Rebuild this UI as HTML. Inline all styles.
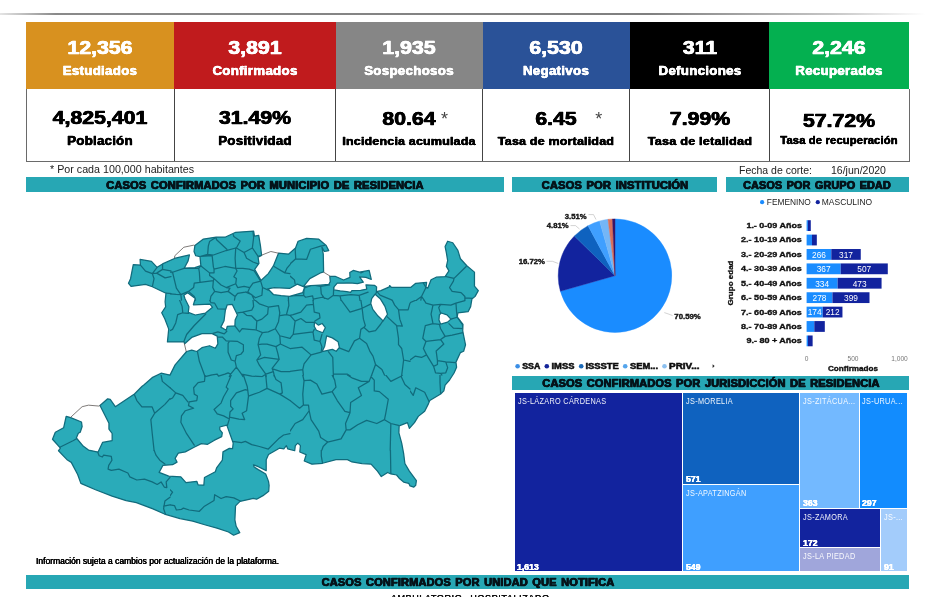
<!DOCTYPE html>
<html lang="es">
<head>
<meta charset="utf-8">
<title>COVID-19 Michoacán — Panorama</title>
<style>
html,body{margin:0;padding:0;background:#fff;}
body{width:940px;height:597px;position:relative;overflow:hidden;font-family:"Liberation Sans",Arial,Helvetica,sans-serif;}
.t{position:absolute;white-space:nowrap;line-height:1;margin:0;padding:0;}
.b{position:absolute;box-sizing:border-box;}
svg{position:absolute;left:0;top:0;overflow:visible;}
svg text{font-family:"Liberation Sans",Arial,Helvetica,sans-serif;}
</style>
</head>
<body>

<div class="b" style="left:0;top:13px;width:925px;height:2px;background:linear-gradient(90deg,rgba(150,150,150,.25) 0,rgba(125,125,125,.9) 6%,rgba(120,120,120,.95) 70%,rgba(150,150,150,.55) 90%,rgba(200,200,200,0) 100%);"></div>
<div class="b" style="left:26.20px;top:22.30px;width:147.80px;height:66.40px;background:#D8911F;"></div>
<div class="t" style="top:38.42px;left:100.10px;transform:translateX(-50%) scaleX(1.12);font-size:19px;font-weight:700;color:#fff;-webkit-text-stroke:0.41px #fff;text-shadow:0.36px 0 0 #fff,-0.36px 0 0 #fff;">12,356</div>
<div class="t" style="top:65.14px;left:100.10px;transform:translateX(-50%) scaleX(1.11);font-size:12px;font-weight:700;color:#fff;letter-spacing:0.25px;-webkit-text-stroke:0.27px #fff;text-shadow:0.24px 0 0 #fff,-0.24px 0 0 #fff;">Estudiados</div>
<div class="b" style="left:174.00px;top:22.30px;width:161.60px;height:66.40px;background:#C01B1D;"></div>
<div class="t" style="top:38.42px;left:254.80px;transform:translateX(-50%) scaleX(1.12);font-size:19px;font-weight:700;color:#fff;-webkit-text-stroke:0.41px #fff;text-shadow:0.36px 0 0 #fff,-0.36px 0 0 #fff;">3,891</div>
<div class="t" style="top:65.14px;left:254.80px;transform:translateX(-50%) scaleX(1.11);font-size:12px;font-weight:700;color:#fff;letter-spacing:0.25px;-webkit-text-stroke:0.27px #fff;text-shadow:0.24px 0 0 #fff,-0.24px 0 0 #fff;">Confirmados</div>
<div class="b" style="left:335.60px;top:22.30px;width:147.00px;height:66.40px;background:#868686;"></div>
<div class="t" style="top:38.42px;left:409.10px;transform:translateX(-50%) scaleX(1.12);font-size:19px;font-weight:700;color:#fff;-webkit-text-stroke:0.41px #fff;text-shadow:0.36px 0 0 #fff,-0.36px 0 0 #fff;">1,935</div>
<div class="t" style="top:65.14px;left:409.10px;transform:translateX(-50%) scaleX(1.11);font-size:12px;font-weight:700;color:#fff;letter-spacing:0.25px;-webkit-text-stroke:0.27px #fff;text-shadow:0.24px 0 0 #fff,-0.24px 0 0 #fff;">Sospechosos</div>
<div class="b" style="left:482.60px;top:22.30px;width:147.30px;height:66.40px;background:#2A5298;"></div>
<div class="t" style="top:38.42px;left:556.25px;transform:translateX(-50%) scaleX(1.12);font-size:19px;font-weight:700;color:#fff;-webkit-text-stroke:0.41px #fff;text-shadow:0.36px 0 0 #fff,-0.36px 0 0 #fff;">6,530</div>
<div class="t" style="top:65.14px;left:556.25px;transform:translateX(-50%) scaleX(1.11);font-size:12px;font-weight:700;color:#fff;letter-spacing:0.25px;-webkit-text-stroke:0.27px #fff;text-shadow:0.24px 0 0 #fff,-0.24px 0 0 #fff;">Negativos</div>
<div class="b" style="left:629.90px;top:22.30px;width:139.30px;height:66.40px;background:#000000;"></div>
<div class="t" style="top:38.42px;left:699.55px;transform:translateX(-50%) scaleX(1.12);font-size:19px;font-weight:700;color:#fff;-webkit-text-stroke:0.41px #fff;text-shadow:0.36px 0 0 #fff,-0.36px 0 0 #fff;">311</div>
<div class="t" style="top:65.14px;left:699.55px;transform:translateX(-50%) scaleX(1.11);font-size:12px;font-weight:700;color:#fff;letter-spacing:0.25px;-webkit-text-stroke:0.27px #fff;text-shadow:0.24px 0 0 #fff,-0.24px 0 0 #fff;">Defunciones</div>
<div class="b" style="left:769.20px;top:22.30px;width:140.10px;height:66.40px;background:#04B050;"></div>
<div class="t" style="top:38.42px;left:839.25px;transform:translateX(-50%) scaleX(1.12);font-size:19px;font-weight:700;color:#fff;-webkit-text-stroke:0.41px #fff;text-shadow:0.36px 0 0 #fff,-0.36px 0 0 #fff;">2,246</div>
<div class="t" style="top:65.14px;left:839.25px;transform:translateX(-50%) scaleX(1.11);font-size:12px;font-weight:700;color:#fff;letter-spacing:0.25px;-webkit-text-stroke:0.27px #fff;text-shadow:0.24px 0 0 #fff,-0.24px 0 0 #fff;">Recuperados</div>
<div class="b" style="left:26.20px;top:88.70px;width:883.60px;height:73.00px;background:#fff;border:1px solid #6a6a6a;border-top:none;"></div>
<div class="b" style="left:173.50px;top:88.70px;width:1.00px;height:72.60px;background:#444;"></div>
<div class="b" style="left:335.10px;top:88.70px;width:1.00px;height:72.60px;background:#444;"></div>
<div class="b" style="left:482.10px;top:88.70px;width:1.00px;height:72.60px;background:#444;"></div>
<div class="b" style="left:629.40px;top:88.70px;width:1.00px;height:72.60px;background:#444;"></div>
<div class="b" style="left:768.70px;top:88.70px;width:1.00px;height:72.60px;background:#444;"></div>
<div class="t" style="top:108.22px;left:100.10px;transform:translateX(-50%) scaleX(1.12);font-size:19px;font-weight:700;color:#000;-webkit-text-stroke:0.41px #000;text-shadow:0.36px 0 0 #000,-0.36px 0 0 #000;">4,825,401</div>
<div class="t" style="top:135.34px;left:100.10px;transform:translateX(-50%) scaleX(1.1199999999999999);font-size:12px;font-weight:700;color:#000;letter-spacing:0.15px;-webkit-text-stroke:0.27px #000;text-shadow:0.24px 0 0 #000,-0.24px 0 0 #000;">Población</div>
<div class="t" style="top:108.22px;left:254.80px;transform:translateX(-50%) scaleX(1.12);font-size:19px;font-weight:700;color:#000;-webkit-text-stroke:0.41px #000;text-shadow:0.36px 0 0 #000,-0.36px 0 0 #000;">31.49%</div>
<div class="t" style="top:135.34px;left:254.80px;transform:translateX(-50%) scaleX(1.1199999999999999);font-size:12px;font-weight:700;color:#000;letter-spacing:0.15px;-webkit-text-stroke:0.27px #000;text-shadow:0.24px 0 0 #000,-0.24px 0 0 #000;">Positividad</div>
<div class="t" style="top:108.62px;left:409.10px;transform:translateX(-50%) scaleX(1.12);font-size:19px;font-weight:700;color:#000;-webkit-text-stroke:0.41px #000;text-shadow:0.36px 0 0 #000,-0.36px 0 0 #000;">80.64</div>
<div class="t" style="top:136.19px;left:409.10px;transform:translateX(-50%) scaleX(1.136);font-size:11px;font-weight:700;color:#000;letter-spacing:0.15px;-webkit-text-stroke:0.27px #000;text-shadow:0.24px 0 0 #000,-0.24px 0 0 #000;">Incidencia acumulada</div>
<div class="t" style="top:108.72px;left:556.25px;transform:translateX(-50%) scaleX(1.12);font-size:19px;font-weight:700;color:#000;-webkit-text-stroke:0.41px #000;text-shadow:0.36px 0 0 #000,-0.36px 0 0 #000;">6.45</div>
<div class="t" style="top:135.77px;left:556.25px;transform:translateX(-50%) scaleX(1.09);font-size:11.5px;font-weight:700;color:#000;letter-spacing:0.15px;-webkit-text-stroke:0.27px #000;text-shadow:0.24px 0 0 #000,-0.24px 0 0 #000;">Tasa de mortalidad</div>
<div class="t" style="top:109.42px;left:699.55px;transform:translateX(-50%) scaleX(1.12);font-size:19px;font-weight:700;color:#000;-webkit-text-stroke:0.41px #000;text-shadow:0.36px 0 0 #000,-0.36px 0 0 #000;">7.99%</div>
<div class="t" style="top:135.77px;left:699.55px;transform:translateX(-50%) scaleX(1.105);font-size:11.5px;font-weight:700;color:#000;letter-spacing:0.15px;-webkit-text-stroke:0.27px #000;text-shadow:0.24px 0 0 #000,-0.24px 0 0 #000;">Tasa de letalidad</div>
<div class="t" style="top:110.72px;left:839.25px;transform:translateX(-50%) scaleX(1.12);font-size:19px;font-weight:700;color:#000;-webkit-text-stroke:0.41px #000;text-shadow:0.36px 0 0 #000,-0.36px 0 0 #000;">57.72%</div>
<div class="t" style="top:136.34px;left:839.25px;transform:translateX(-50%) scaleX(1.1179999999999999);font-size:10px;font-weight:700;color:#000;letter-spacing:0.15px;-webkit-text-stroke:0.27px #000;text-shadow:0.24px 0 0 #000,-0.24px 0 0 #000;">Tasa de recuperación</div>
<div class="t" style="top:110.06px;left:444.40px;transform:translateX(-50%) scaleX(1.0);font-size:18px;font-weight:400;color:#444;">*</div>
<div class="t" style="top:110.06px;left:598.70px;transform:translateX(-50%) scaleX(1.0);font-size:18px;font-weight:400;color:#444;">*</div>
<div class="t" style="top:164.43px;left:49.80px;transform-origin:0 50%;transform:scaleX(0.948);font-size:11.3px;font-weight:400;color:#222;">* Por cada 100,000 habitantes</div>
<div class="t" style="top:164.83px;left:738.80px;transform-origin:0 50%;transform:scaleX(0.93);font-size:11.3px;font-weight:400;color:#222;">Fecha de corte:</div>
<div class="t" style="top:164.83px;left:830.70px;transform-origin:0 50%;transform:scaleX(0.93);font-size:11.3px;font-weight:400;color:#222;">16/jun/2020</div>
<div class="b" style="left:26.20px;top:177.10px;width:478.30px;height:14.70px;background:#27A7B4;"></div>
<div class="t" style="top:179.71px;left:265.35px;transform:translateX(-50%) scaleX(1.053);font-size:10.5px;font-weight:700;color:#06141B;letter-spacing:0.15px;-webkit-text-stroke:0.45px #06141B;text-shadow:0.40px 0 0 #06141B,-0.40px 0 0 #06141B;word-spacing:1.2px;">CASOS CONFIRMADOS POR MUNICIPIO DE RESIDENCIA</div>
<div class="b" style="left:512.20px;top:177.10px;width:205.20px;height:14.70px;background:#27A7B4;"></div>
<div class="t" style="top:179.71px;left:614.80px;transform:translateX(-50%) scaleX(1.058);font-size:10.5px;font-weight:700;color:#06141B;letter-spacing:0.15px;-webkit-text-stroke:0.45px #06141B;text-shadow:0.40px 0 0 #06141B,-0.40px 0 0 #06141B;word-spacing:1.2px;">CASOS POR INSTITUCIÓN</div>
<div class="b" style="left:725.50px;top:177.10px;width:183.90px;height:14.70px;background:#27A7B4;"></div>
<div class="t" style="top:179.71px;left:817.45px;transform:translateX(-50%) scaleX(1.028);font-size:10.5px;font-weight:700;color:#06141B;letter-spacing:0.15px;-webkit-text-stroke:0.45px #06141B;text-shadow:0.40px 0 0 #06141B,-0.40px 0 0 #06141B;word-spacing:1.2px;">CASOS POR GRUPO EDAD</div>
<div class="b" style="left:511.70px;top:375.70px;width:397.80px;height:14.30px;background:#27A7B4;"></div>
<div class="t" style="top:377.91px;left:710.60px;transform:translateX(-50%) scaleX(1.048);font-size:10.5px;font-weight:700;color:#06141B;letter-spacing:0.15px;-webkit-text-stroke:0.45px #06141B;text-shadow:0.40px 0 0 #06141B,-0.40px 0 0 #06141B;word-spacing:1.2px;">CASOS CONFIRMADOS POR JURISDICCIÓN DE RESIDENCIA</div>
<div class="b" style="left:26.20px;top:574.60px;width:883.30px;height:14.10px;background:#27A7B4;"></div>
<div class="t" style="top:576.61px;left:467.85px;transform:translateX(-50%) scaleX(1.048);font-size:10.5px;font-weight:700;color:#06141B;letter-spacing:0.15px;-webkit-text-stroke:0.45px #06141B;text-shadow:0.40px 0 0 #06141B,-0.40px 0 0 #06141B;word-spacing:1.2px;">CASOS CONFIRMADOS POR UNIDAD QUE NOTIFICA</div>
<svg width="940" height="597" viewBox="0 0 940 597" aria-label="Mapa de Michoacán: casos confirmados por municipio">
<defs>
<clipPath id="mclip"><path d="M128.51 283.32 L130.55 278.72 L133.28 264.6 L140.43 265.11 L140.09 259.49 L151.49 261.36 L157.11 267.32 L162.55 263.91 L174.47 258.47 L189.45 254.89 L188.09 260.85 L184.34 268 L194.89 267.66 L200.85 265.62 L200 256.6 L195.74 255.74 L194.04 251.49 L194.89 245.53 L203.4 239.06 L216.17 237.02 L225.53 237.02 L235.74 232.26 L253.62 231.06 L254.47 236.17 L258.72 235.32 L260.43 245.53 L261.62 255.4 L258.09 257.11 L258.94 263.4 L254.68 269.36 L260.98 280.43 L268.3 273.62 L273.4 265.96 L278.51 253.19 L288.72 254.04 L295.53 248.09 L298.09 241.28 L306.6 238.38 L318.51 239.06 L326.17 245.53 L328.72 250.64 L324.47 251.49 L321.91 247.23 L323.28 254.04 L323.62 271.91 L321.28 272.55 L309.79 278.62 L303.4 286.7 L310.64 285.64 L320.21 285.11 L328.72 284.47 L330.32 281.6 L329.79 276.28 L335.11 276.28 L343.62 280 L350 277.34 L349.79 272.55 L353.19 270.43 L359.57 272.02 L369.15 270.43 L371.28 279.47 L365.96 277.34 L359.57 276.81 L363.3 282.13 L357.45 283.72 L350 282.87 L343.62 283.19 L337.23 283.19 L334.04 286.91 L333.83 289.89 L340 290.85 L346.81 291.7 L350.53 292.45 L351.91 290.53 L360.64 290.32 L366.81 289.04 L365.96 284.79 L374.47 285.32 L376.6 286.91 L376.38 291.7 L380.85 290.64 L389.36 286.91 L389.57 285.53 L391.49 287.45 L410.64 287.45 L415.74 283.36 L426.6 282.34 L425.96 287.45 L427.87 288.09 L431.06 279.79 L436.17 277.23 L445.11 276.6 L448.94 270.85 L446.38 266.38 L447.66 260.64 L446.38 252.98 L445.11 246.6 L447.66 241.23 L452.77 242.77 L457.87 250.43 L460.43 258.72 L466.81 265.74 L474.47 272.13 L474.47 286.17 L478.3 290.64 L475.11 296.38 L471.92 298.94 L470.64 306.6 L468.09 311.7 L457.87 312.98 L457.23 316.81 L462.98 324.47 L462.72 330.85 L464.26 338.51 L465.53 344.89 L463.62 351.28 L460.43 352.55 L455.96 362.13 L456.6 367.23 L454.04 372.98 L449.57 380 L445.11 385.11 L443.83 390.85 L440.64 394.04 L429.79 400.43 L428.51 403.62 L424.68 411.28 L418.3 416.38 L414.47 422.66 L409.36 428.4 L407.45 422.66 L399.15 425.85 L398.89 432.87 L401.7 443.09 L403.62 453.3 L404.89 463.51 L409.36 471.17 L416.38 480.74 L415.75 485.21 L413.83 487.13 L410 485.85 L408.72 483.3 L403.62 482.02 L399.15 478.19 L396.6 475 L390.85 473.98 L387.66 472.45 L381.28 476.53 L377.45 471.17 L371.06 464.15 L362.13 463.51 L351.92 461.98 L347.45 459.68 L335.96 459.68 L322.55 463.26 L311.92 464.15 L304.26 460.96 L306.17 454.57 L299.79 452.02 L300.43 445.64 L297.87 443.09 L295.32 445.64 L294.68 450.74 L287.66 448.83 L286.38 445.64 L283.83 448.83 L279.36 448.19 L268.51 454.57 L266.21 459.68 L266.21 470.66 L258.3 466.7 L253.45 464.79 L254.21 467.09 L258.3 469.64 L265.7 473.98 L268.51 481.38 L269.11 485.43 L268.72 491.17 L262.98 495.64 L256.6 499.21 L253.4 498.45 L240 501.38 L235.53 505.85 L234.89 519.89 L236.17 526.28 L239.74 532.66 L233.62 535.21 L228.51 532.02 L217.02 528.19 L205.53 525 L192.77 521.17 L180 518.62 L164.47 514.04 L152.98 508.94 L136.38 502.55 L126.17 500.64 L112.13 496.17 L95.53 489.79 L80.85 483.4 L77.66 474.47 L71.28 462.34 L67.45 460.06 L58.51 450.74 L60.43 448.19 L52.51 439.26 L55.32 432.23 L63.62 427.77 L66.17 416.28 L70.64 417.55 L81.49 422.02 L82.13 426.49 L80.21 432.23 L78.3 433.26 L76.38 437.98 L83.4 446.28 L88.51 450.11 L98.09 452.02 L102.55 442.45 L112.13 440.53 L112.13 433.51 L108.94 429.04 L108.94 423.3 L100 405.43 L107.66 398.79 L110.21 399.3 L115.32 406.7 L134.47 393.94 L142.13 386.28 L143.83 385.06 L152.13 377.66 L161.06 373.19 L170 375.11 L175.11 364.89 L186.6 351.49 L191.7 350.21 L196.81 351.49 L201.92 347.66 L209.57 345.74 L215.32 348.3 L217.87 343.83 L217.23 336.17 L212.13 333.62 L201.92 333.62 L191.7 337.45 L184.68 343.83 L184.04 341.92 L167.45 341.92 L168.72 329.15 L164.89 318.94 L161.7 312.77 L165.62 306.81 L165.11 301.7 L165.96 293.19 L152.34 286.72 L145.53 284.34 L131.06 286.38 Z M183.83 295.21 L187.66 292.66 L195.32 298.4 L193.4 304.79 L210 304.15 L212.55 307.34 L205.53 313.09 L195.32 315 L188.3 312.45 L188.94 306.7 L185.11 299.04 Z M227.23 304.79 L232.34 304.4 L237.45 315 L235.15 320.11 L234.89 325.85 L227.23 326.49 L226.21 330.32 L220.85 327.13 L224.04 320.74 L225.32 310.53 Z M267.79 288.77 L274.26 287.57 L289.57 288.43 L297.23 284.17 L304.72 287.06 L302.68 292.68 L289.57 296.43 L281.06 295.57 L273.4 294.55 Z M314.47 321.92 L318.3 325.11 L322.13 323.45 L325.32 327.66 L322.77 332.77 L316.38 330.21 L314.21 326.38 Z M326.6 335.96 L332.34 337.87 L338.09 341.7 L339.36 347.45 L336.17 351.28 L332.34 349.36 L322.13 351.53 L324.68 346.17 Z M375.11 294.21 L380.21 298.68 L384.94 306.34 L387.49 314.26 L383.15 320.89 L378.04 316.04 L372.81 309.4 L370.77 303.4 L371.66 298.68 Z M439.36 314.89 L441.28 312.98 L447.02 314.89 L450.85 319.11 L447.66 322.17 L440.64 324.21 L438.98 320 Z M219.79 427.02 L226.81 425.11 L233.19 442.98 L232.55 448.72 L229.36 448.34 L222.98 451.92 L222.34 460.21 L216.6 467.87 L215.32 471.7 L204.47 477.45 L203.83 485.11 L198.09 484.85 L196.81 481.28 L185.96 482.55 L180.85 476.81 L168.72 476.17 L159.15 472.34 L162.98 465.32 L172.55 464.68 L177.02 462.13 L175.11 458.3 L178.3 453.19 L185.32 451.92 L193.62 447.45 L201.28 443.62 L207.66 444.26 L214.04 440.43 L221.7 436.6 L222.34 432.77 L219.79 429.57 Z" clip-rule="evenodd"/></clipPath>
<clipPath id="c0" clip-path="url(#mclip)"><rect x="50" y="225" width="121.5" height="77.5"/></clipPath>
<clipPath id="c1" clip-path="url(#mclip)"><rect x="170" y="225" width="121.5" height="77.5"/></clipPath>
<clipPath id="c2" clip-path="url(#mclip)"><rect x="290" y="225" width="121.5" height="77.5"/></clipPath>
<clipPath id="c3" clip-path="url(#mclip)"><rect x="410" y="225" width="121.5" height="77.5"/></clipPath>
<clipPath id="c4" clip-path="url(#mclip)"><rect x="170" y="300" width="121.5" height="77.5"/></clipPath>
<clipPath id="c5" clip-path="url(#mclip)"><rect x="290" y="300" width="121.5" height="77.5"/></clipPath>
<clipPath id="c6" clip-path="url(#mclip)"><rect x="410" y="300" width="121.5" height="77.5"/></clipPath>
<clipPath id="c7" clip-path="url(#mclip)"><rect x="50" y="375" width="121.5" height="77.5"/></clipPath>
<clipPath id="c8" clip-path="url(#mclip)"><rect x="170" y="375" width="121.5" height="77.5"/></clipPath>
<clipPath id="c9" clip-path="url(#mclip)"><rect x="290" y="375" width="121.5" height="77.5"/></clipPath>
<clipPath id="c10" clip-path="url(#mclip)"><rect x="410" y="375" width="121.5" height="77.5"/></clipPath>
<clipPath id="c11" clip-path="url(#mclip)"><rect x="50" y="450" width="121.5" height="82.5"/></clipPath>
<clipPath id="c12" clip-path="url(#mclip)"><rect x="170" y="450" width="121.5" height="82.5"/></clipPath>
<clipPath id="c13" clip-path="url(#mclip)"><rect x="290" y="450" width="121.5" height="82.5"/></clipPath>
</defs>
<path d="M128.51 283.32 L130.55 278.72 L133.28 264.6 L140.43 265.11 L140.09 259.49 L151.49 261.36 L157.11 267.32 L162.55 263.91 L174.47 258.47 L189.45 254.89 L188.09 260.85 L184.34 268 L194.89 267.66 L200.85 265.62 L200 256.6 L195.74 255.74 L194.04 251.49 L194.89 245.53 L203.4 239.06 L216.17 237.02 L225.53 237.02 L235.74 232.26 L253.62 231.06 L254.47 236.17 L258.72 235.32 L260.43 245.53 L261.62 255.4 L258.09 257.11 L258.94 263.4 L254.68 269.36 L260.98 280.43 L268.3 273.62 L273.4 265.96 L278.51 253.19 L288.72 254.04 L295.53 248.09 L298.09 241.28 L306.6 238.38 L318.51 239.06 L326.17 245.53 L328.72 250.64 L324.47 251.49 L321.91 247.23 L323.28 254.04 L323.62 271.91 L321.28 272.55 L309.79 278.62 L303.4 286.7 L310.64 285.64 L320.21 285.11 L328.72 284.47 L330.32 281.6 L329.79 276.28 L335.11 276.28 L343.62 280 L350 277.34 L349.79 272.55 L353.19 270.43 L359.57 272.02 L369.15 270.43 L371.28 279.47 L365.96 277.34 L359.57 276.81 L363.3 282.13 L357.45 283.72 L350 282.87 L343.62 283.19 L337.23 283.19 L334.04 286.91 L333.83 289.89 L340 290.85 L346.81 291.7 L350.53 292.45 L351.91 290.53 L360.64 290.32 L366.81 289.04 L365.96 284.79 L374.47 285.32 L376.6 286.91 L376.38 291.7 L380.85 290.64 L389.36 286.91 L389.57 285.53 L391.49 287.45 L410.64 287.45 L415.74 283.36 L426.6 282.34 L425.96 287.45 L427.87 288.09 L431.06 279.79 L436.17 277.23 L445.11 276.6 L448.94 270.85 L446.38 266.38 L447.66 260.64 L446.38 252.98 L445.11 246.6 L447.66 241.23 L452.77 242.77 L457.87 250.43 L460.43 258.72 L466.81 265.74 L474.47 272.13 L474.47 286.17 L478.3 290.64 L475.11 296.38 L471.92 298.94 L470.64 306.6 L468.09 311.7 L457.87 312.98 L457.23 316.81 L462.98 324.47 L462.72 330.85 L464.26 338.51 L465.53 344.89 L463.62 351.28 L460.43 352.55 L455.96 362.13 L456.6 367.23 L454.04 372.98 L449.57 380 L445.11 385.11 L443.83 390.85 L440.64 394.04 L429.79 400.43 L428.51 403.62 L424.68 411.28 L418.3 416.38 L414.47 422.66 L409.36 428.4 L407.45 422.66 L399.15 425.85 L398.89 432.87 L401.7 443.09 L403.62 453.3 L404.89 463.51 L409.36 471.17 L416.38 480.74 L415.75 485.21 L413.83 487.13 L410 485.85 L408.72 483.3 L403.62 482.02 L399.15 478.19 L396.6 475 L390.85 473.98 L387.66 472.45 L381.28 476.53 L377.45 471.17 L371.06 464.15 L362.13 463.51 L351.92 461.98 L347.45 459.68 L335.96 459.68 L322.55 463.26 L311.92 464.15 L304.26 460.96 L306.17 454.57 L299.79 452.02 L300.43 445.64 L297.87 443.09 L295.32 445.64 L294.68 450.74 L287.66 448.83 L286.38 445.64 L283.83 448.83 L279.36 448.19 L268.51 454.57 L266.21 459.68 L266.21 470.66 L258.3 466.7 L253.45 464.79 L254.21 467.09 L258.3 469.64 L265.7 473.98 L268.51 481.38 L269.11 485.43 L268.72 491.17 L262.98 495.64 L256.6 499.21 L253.4 498.45 L240 501.38 L235.53 505.85 L234.89 519.89 L236.17 526.28 L239.74 532.66 L233.62 535.21 L228.51 532.02 L217.02 528.19 L205.53 525 L192.77 521.17 L180 518.62 L164.47 514.04 L152.98 508.94 L136.38 502.55 L126.17 500.64 L112.13 496.17 L95.53 489.79 L80.85 483.4 L77.66 474.47 L71.28 462.34 L67.45 460.06 L58.51 450.74 L60.43 448.19 L52.51 439.26 L55.32 432.23 L63.62 427.77 L66.17 416.28 L70.64 417.55 L81.49 422.02 L82.13 426.49 L80.21 432.23 L78.3 433.26 L76.38 437.98 L83.4 446.28 L88.51 450.11 L98.09 452.02 L102.55 442.45 L112.13 440.53 L112.13 433.51 L108.94 429.04 L108.94 423.3 L100 405.43 L107.66 398.79 L110.21 399.3 L115.32 406.7 L134.47 393.94 L142.13 386.28 L143.83 385.06 L152.13 377.66 L161.06 373.19 L170 375.11 L175.11 364.89 L186.6 351.49 L191.7 350.21 L196.81 351.49 L201.92 347.66 L209.57 345.74 L215.32 348.3 L217.87 343.83 L217.23 336.17 L212.13 333.62 L201.92 333.62 L191.7 337.45 L184.68 343.83 L184.04 341.92 L167.45 341.92 L168.72 329.15 L164.89 318.94 L161.7 312.77 L165.62 306.81 L165.11 301.7 L165.96 293.19 L152.34 286.72 L145.53 284.34 L131.06 286.38 Z M183.83 295.21 L187.66 292.66 L195.32 298.4 L193.4 304.79 L210 304.15 L212.55 307.34 L205.53 313.09 L195.32 315 L188.3 312.45 L188.94 306.7 L185.11 299.04 Z M227.23 304.79 L232.34 304.4 L237.45 315 L235.15 320.11 L234.89 325.85 L227.23 326.49 L226.21 330.32 L220.85 327.13 L224.04 320.74 L225.32 310.53 Z M267.79 288.77 L274.26 287.57 L289.57 288.43 L297.23 284.17 L304.72 287.06 L302.68 292.68 L289.57 296.43 L281.06 295.57 L273.4 294.55 Z M314.47 321.92 L318.3 325.11 L322.13 323.45 L325.32 327.66 L322.77 332.77 L316.38 330.21 L314.21 326.38 Z M326.6 335.96 L332.34 337.87 L338.09 341.7 L339.36 347.45 L336.17 351.28 L332.34 349.36 L322.13 351.53 L324.68 346.17 Z M375.11 294.21 L380.21 298.68 L384.94 306.34 L387.49 314.26 L383.15 320.89 L378.04 316.04 L372.81 309.4 L370.77 303.4 L371.66 298.68 Z M439.36 314.89 L441.28 312.98 L447.02 314.89 L450.85 319.11 L447.66 322.17 L440.64 324.21 L438.98 320 Z M219.79 427.02 L226.81 425.11 L233.19 442.98 L232.55 448.72 L229.36 448.34 L222.98 451.92 L222.34 460.21 L216.6 467.87 L215.32 471.7 L204.47 477.45 L203.83 485.11 L198.09 484.85 L196.81 481.28 L185.96 482.55 L180.85 476.81 L168.72 476.17 L159.15 472.34 L162.98 465.32 L172.55 464.68 L177.02 462.13 L175.11 458.3 L178.3 453.19 L185.32 451.92 L193.62 447.45 L201.28 443.62 L207.66 444.26 L214.04 440.43 L221.7 436.6 L222.34 432.77 L219.79 429.57 Z" fill="#2AABB9" fill-rule="evenodd"/>
<path clip-path="url(#c0)" d="M140.43 265.11 L145.53 271.06 L152.34 273.62 L157.11 267.32 M152.34 273.62 L154.04 278.72 L152.34 286.72 M152.34 273.62 L156.6 273.11 L162.55 269.36 L162.55 263.91 M156.6 273.11 L165.11 277.87 L172.77 276.17 L171.91 271.06 L162.55 269.36 M171.91 271.06 L183.83 268.51 M172.77 276.17 L174.47 281.28 L177.87 291.49 L176.17 294.04 L165.96 293.19" fill="none" stroke="#116B7C" stroke-width="1.25" stroke-linejoin="round" stroke-linecap="round"/>
<path clip-path="url(#c1)" d="M215.32 237.77 L209.57 241.6 L208.3 246.06 L207.66 254.36 M200.64 256.28 L207.66 254.36 L213.4 255 L226.17 250.53 L235.74 247.98 M215.96 237.77 L216.6 239.68 L226.81 249.26 M233.19 234.57 L233.83 236.49 L240.21 240.96 L236.38 247.98 M236.38 247.98 L244.04 252.45 L252.34 247.98 L253.62 237.77 L252.98 231.38 M252.34 247.98 L258.09 256.28 L261.28 255.64 M244.04 252.45 L246.6 258.19 L252.98 262.02 L258.09 263.94 M235.74 247.98 L235.11 258.19 L235.74 268.4 M235.74 268.4 L242.77 268.4 L249.15 269.04 L254.26 270.96 M200.64 256.28 L212.13 255.64 L213.4 267.13 L214.04 269.04 L224.89 266.49 L235.74 268.4 M200.64 265.85 L209.57 272.87 L214.04 272.87 L214.04 269.04 M235.74 268.4 L237.02 270.96 L233.83 276.7 L236.38 278.62 L235.74 283.72 L226.17 287.55 L221.06 285 L214.04 278.62 L209.57 275.43 L209.57 272.87 M254.26 270.96 L260.64 281.17 L252.98 283.09 L249.79 287.55 L244.04 286.28 L237.66 287.55 L235.74 283.72 M214.04 278.62 L213.4 280.53 L200 282.45 L199.36 272.23 L198.72 268.4 L200.64 265.85 M170 272.23 L172.55 272.23 L184.04 268.4 L197.45 268.4 L198.72 268.4 M200 282.45 L194.26 283.09 L193.62 287.55 L188.51 291.38 L180.85 294.57 L176.38 288.19 L172.55 272.23 M213.4 280.53 L212.77 287.55 L214.68 291.38 L221.06 292.66 L228.09 291.38 L230 288.19 L226.17 287.55 M249.79 287.55 L247.87 292.02 L255.53 297.77 L261.92 295.21 L262.55 287.55 L260.64 281.17 M262.55 287.55 L268.3 290.11 M274.04 266.49 L284.89 272.87 L290 273.51 M284.89 272.87 L286.81 268.4 L290 264.57 M228.09 291.38 L235.11 296.49 L237.66 293.3 L245.32 292.02 L247.87 292.02 M235.11 296.49 L234.47 300.06 M245.32 292.02 L251.7 294.57 L254.26 300.06 M214.68 291.38 L210.85 296.49 L210.21 300.06 M188.51 291.38 L194.26 296.49 L195.53 300.06 M180.85 294.57 L181.49 300.06 M168.47 293.68 L176.13 294.32 L180.85 294.57 M290.64 295.98 L288.34 295.98 L288.47 300.57" fill="none" stroke="#116B7C" stroke-width="1.25" stroke-linejoin="round" stroke-linecap="round"/>
<path clip-path="url(#c2)" d="M295.11 247.98 L295.74 258.83 L306.6 259.47 L310.43 249.26 L320.64 246.06 L324.47 245.43 M295.74 258.83 L290 263.94 M290 276.06 L294.47 279.89 L295.11 283.72 M304.04 288.19 L312.34 285 L320.64 286.28 L329.57 285 M320.64 286.28 L321.28 293.94 L324.47 298.4 M333.66 287.68 L333.4 295.34 L327.92 299.17 L322.17 297.26 M304.04 288.19 L303.66 295.34 L305.57 297.26 L312.6 295.98 L313.23 299.17 L322.17 297.26 M313.23 299.17 L313.36 300.32 M288.09 295.98 L303.66 295.34 M333.4 295.34 L340.04 295.98 L350.89 294.7 L359.19 295.34 L368.13 292.15 M340.04 295.98 L341.06 300.32 M359.19 295.34 L359.96 300.32 M360.85 272.87 L363.4 271.6 M376.81 291.38 L380 295.09 L392.13 300.06 M376.81 291.38 L372.98 300.06" fill="none" stroke="#116B7C" stroke-width="1.25" stroke-linejoin="round" stroke-linecap="round"/>
<path clip-path="url(#c3)" d="M445.11 276.32 L454.04 278.36 L466.17 266.49 M454.04 278.36 L453.4 281.17 L449.57 287.55 L452.13 291.38 L461.06 292.66 L464.89 296.49 L464.89 300.06 M423.4 283.09 L425.96 287.55 L421.49 296.49 L420.85 300.06 M416.38 300.32 L421.49 296.49 L424.3 300.32 M464.89 297.77 L472.55 298.4" fill="none" stroke="#116B7C" stroke-width="1.25" stroke-linejoin="round" stroke-linecap="round"/>
<path clip-path="url(#c4)" d="M179.57 300 L182.13 306.38 L182.77 312.77 L177.66 314.68 L175.74 322.98 L172.55 329.36 L170 330.64 M182.77 312.77 L188.51 313.4 M205.74 314.04 L194.26 325.53 L186.6 334.47 L183.4 342.77 M209.57 300 L210.85 302.55 L214.68 303.19 L217.87 308.94 L225.53 309.19 M237.66 312.77 L242.77 312.13 L246.6 315.32 L251.7 315.96 L256.81 321.06 L256.17 330 L249.15 329.36 L242.13 328.72 L239.57 331.92 L235.11 326.17 M252.98 300 L253.62 306.38 L251.7 310.21 L242.77 312.13 M254.89 300 L259.36 303.83 L268.3 307.02 L278.51 305.74 L279.79 312.77 L278.51 321.7 L275.32 328.72 L268.3 331.92 L262.55 332.55 L256.17 330 M268.3 307.02 L267.66 314.04 L261.92 319.15 L256.81 321.06 M288.34 298.72 L288.85 305.49 L286.43 314.55 M280.04 315.7 L286.43 314.55 L290.64 315.57 M275.32 328.72 L279.79 335.74 L280.43 344.04 L275.96 346.6 L277.87 353.62 L279.15 359.36 M280.43 344.04 L290 348.51 M279.79 335.74 L290 338.3 M262.55 332.55 L259.36 338.3 L258.09 344.68 L261.92 344.04 L267.02 344.04 L275.96 346.6 M258.09 344.68 L260.64 354.89 L256.81 360 L264.47 357.45 L279.15 359.36 M256.81 360 L259.36 365.23 L265.75 374.17 M279.15 359.36 L272.13 368.43 L273.4 371.62 L265.75 374.17 M265.75 374.17 L266 376.6 M241.49 374.17 L251.7 376.09 L261.92 376.72 L265.75 374.17 M273.4 369.06 L281.06 371.62 L290 371.62 M273.4 371.62 L274.43 376.6 M211.49 333.83 L217.87 331.92 L224.26 333.83 L226.81 331.28 M217.87 337.02 L222.34 337.02 L226.17 340.85 L237.66 341.49 L243.4 344.68 L243.4 351.06 L240.85 354.26 L236.38 355.53 L235.11 361.28 L231.28 360 L228.09 352.34 L228.09 343.4 L229.36 341.49 M235.11 361.28 L236.38 367.15 L241.49 374.17 L243.02 376.6 M236.38 367.15 L230.64 374.17 L229.36 376.6 M205.11 376.72 L212.13 374.81 L217.23 374.17 L218.51 376.09 L224.89 374.17 L228.09 372.89 L230.64 374.17 M197.45 351.7 L199.36 361.28 L203.19 371.49 L205.11 376.72" fill="none" stroke="#116B7C" stroke-width="1.25" stroke-linejoin="round" stroke-linecap="round"/>
<path clip-path="url(#c5)" d="M312.98 300 L314.26 312.13 L319.36 313.4 L320 317.87 L314.89 321.06 M290 315.32 L293.19 314.68 L300.85 312.13 L306.6 305.11 L312.98 304.47 M290 315.32 L295.11 321.06 L300.85 318.51 L305.96 322.34 L313.62 322.34 M295.11 321.06 L293.19 334.47 L290 338.3 M293.19 334.47 L312.98 331.92 L314.26 329.36 M312.98 331.92 L314.26 340.21 L320 341.49 L321.92 334.47 M320 341.49 L321.92 346.6 L321.28 351.7 M290 348.51 L302.13 347.23 L311.06 354.89 L321.28 352.09 M311.06 354.89 L304.04 363.83 L302.77 369.57 L290 371.49 M302.77 369.57 L303.4 375.06 M328.3 351.7 L332.77 357.45 L333.4 376.6 M333.4 374.17 L347.45 374.17 L350.26 376.09 M339.15 347.87 L348.72 351.7 L354.47 340.85 L359.57 338.3 L360.85 329.36 L364.68 326.81 M359.57 338.3 L366.6 343.4 L369.79 351.06 L372.98 356.17 L375.53 364.47 L371.7 375.06 M375.53 364.47 L381.92 369.57 L384.47 375.06 M341.06 300 L350 312.13 L362.13 308.3 L371.06 303.83 M362.13 308.3 L360.85 300 M362.13 308.3 L363.4 319.15 L365.32 325.53 L364.04 327.45 L369.15 331.92 L375.53 330.64 L380.64 324.26 L383.19 320.43 M387.02 316.6 L396.6 325.53 L398.51 338.3 L398.51 344.68 L401.7 348.51 L403.62 360 L401.7 375.06 M392.13 300 L394.68 305.11 L398.51 309.57 L408.09 309.83 L410 303.19 M398.51 309.57 L399.79 319.15 L402.34 326.17 L396.6 325.53 M403.62 360 L410 361.28" fill="none" stroke="#116B7C" stroke-width="1.25" stroke-linejoin="round" stroke-linecap="round"/>
<path clip-path="url(#c6)" d="M410 302.55 L416.38 300 M424.04 300 L425.96 303.19 L432.98 305.11 L440.64 304.47 L450.85 305.11 L455.96 303.19 L464.89 300.64 M432.98 305.11 L431.06 314.04 L432.98 323.62 L439.36 324.26 M440.64 304.47 L438.72 307.66 L440.64 313.4 M455.96 303.19 L456.6 312.13 L457.23 317.23 M450.85 319.15 L457.23 317.23 L462.34 324.26 L462.98 328.72 M448.94 323.62 L453.4 328.09 L462.98 328.72 M432.98 323.62 L425.32 325.53 L422.77 338.3 L425.96 341.49 L440.64 339.57 L445.11 336.38 L440.64 328.72 L439.36 324.26 M445.11 336.38 L452.13 335.11 L462.98 332.55 M425.96 341.49 L423.4 348.51 L426.6 354.89 L421.49 357.45 L415.11 356.17 L410 360 M440.64 339.57 L443.83 344.04 L436.17 351.06 L437.45 360.64 L445.74 361.92 L455.32 362.55 M426.6 354.89 L433.62 366.38 L437.45 364.47 L437.45 360.64 M433.62 366.38 L435.53 372.77 L440.64 373.4 L441.92 375.06 M445.74 361.92 L447.66 367.66 L445.74 372.77 L440.64 373.4" fill="none" stroke="#116B7C" stroke-width="1.25" stroke-linejoin="round" stroke-linecap="round"/>
<path clip-path="url(#c7)" d="M134.26 394.15 L136.81 400.53 L141.92 406.92 L152.13 406.92 L154.68 413.3 M161.06 375 L162.34 381.38 L170 387.77 M170 398.62 L164.89 404.36 L154.68 413.3 L150.85 419.68 L152.13 432.45 L154.04 450.06 M58.3 448.02 L72.98 440.74 L77.45 438.19" fill="none" stroke="#116B7C" stroke-width="1.25" stroke-linejoin="round" stroke-linecap="round"/>
<path clip-path="url(#c8)" d="M170 387.77 L175.74 392.87 L182.77 395.43 L187.87 401.81 M175.74 392.87 L172.55 397.98 L170 399.26 M205.11 375 L204.47 381.38 L198.09 382.66 L193.62 387.77 L194.26 394.15 L197.45 396.06 L196.81 400.53 L189.15 401.81 L188.51 405.64 L193.62 408.19 L185.32 410.74 L181.49 415.85 L180.85 422.23 L186.6 433.72 L194.26 445.21 M231.28 375 L226.17 387.13 L228.09 389.04 L223.62 396.7 L221.06 403.09 L214.04 409.47 L217.23 413.94 L223.62 415.85 L229.36 419.04 L227.45 425.43 M229.36 419.04 L230 412.02 L233.19 408.83 L230.64 406.28 L230.64 400.53 L236.38 392.87 L245.32 389.68 L247.87 390.32 M243.4 375 L247.23 386.49 L248.51 396.06 L246.6 410.74 L242.13 413.3 L244.68 419.68 L238.94 419.04 L229.36 417.13 M248.51 396.06 L259.36 392.23 L267.02 388.4 L265.75 375 M267.02 388.4 L279.79 394.15 L290 400.53 M274.04 375 L275.96 379.47 L281.06 382.66 L282.34 392.87 L279.79 394.15 M232.55 441.38 L241.49 442.66 L245.32 441.38 L251.7 444.57 L259.36 446.49 L268.3 449.04 L278.51 438.83 L283.62 435 L290 433.72" fill="none" stroke="#116B7C" stroke-width="1.25" stroke-linejoin="round" stroke-linecap="round"/>
<path clip-path="url(#c9)" d="M302.77 375 L304.04 380.74 L302.77 394.15 L303.4 405 L299.57 408.19 L290 400.53 M304.04 380.74 L310.43 380.11 L316.81 383.94 L321.92 394.15 L332.13 391.6 L335.96 387.13 L334.68 380.11 L332.13 375 M303.4 405 L308.51 405 L309.15 410.74 L302.77 419.68 L295.11 423.51 L290 431.17 M309.15 410.74 L311.06 419.68 L318.72 431.17 L320.64 437.55 L327.66 442.02 L341.06 438.83 L346.17 429.89 L345.53 423.51 L350 412.66 M332.13 391.6 L337.23 400.53 L344.89 411.38 L350 412.66 L350.64 402.45 L361.49 395.43 L358.3 387.77 L369.15 381.38 L371.7 375 M347.45 375 L352.55 378.19 L361.49 381.38 L369.15 381.38 M371.7 377.55 L374.26 380.11 L374.26 390.96 L379.36 391.6 L388.3 399.26 L385.75 413.3 L384.47 419.68 L376.81 423.51 L366.6 420.32 L357.66 424.79 L350 429.89 L346.17 429.89 M384.47 419.68 L390.85 423.51 L398.51 425.43 M390.85 423.51 L390.21 450.06 M327.66 442.02 L323.19 446.49 L321.92 450.06 M385.75 375 L390.85 381.38 L401.06 376.28 L402.34 375 M401.06 376.28 L404.89 384.57 L410 389.04" fill="none" stroke="#116B7C" stroke-width="1.25" stroke-linejoin="round" stroke-linecap="round"/>
<path clip-path="url(#c10)" d="M440 375 L440 382.66 L440.64 394.15 M410 390.96 L413.19 395.43 L415.74 387.77 L424.68 392.23 L429.15 401.81" fill="none" stroke="#116B7C" stroke-width="1.25" stroke-linejoin="round" stroke-linecap="round"/>
<path clip-path="url(#c11)" d="M97.87 452.55 L99.15 455.74 L102.34 457.02 L103.62 455.11 L111.28 456.38 L111.92 460.21 L108.72 465.32 L108.09 469.15 L111.28 470.43 L118.94 469.15 L127.87 472.98 L129.79 476.81 L136.81 480 L144.47 479.11 L152.13 481.92 L157.23 484.47 L161.06 481.92 L164.26 487.02 L166.81 487.66 L166.17 481.92 L170 477.45 M154.04 450 L155.96 455.11 L159.79 460.21 L164.89 464.04 M170 497.23 L164.89 501.06 L163.62 508.72 L165.53 514.47 M163.62 506.17 L170 504.89" fill="none" stroke="#116B7C" stroke-width="1.25" stroke-linejoin="round" stroke-linecap="round"/>
<path clip-path="url(#c12)" d="M170 504.89 L174.47 505.53 L176.38 510 L181.49 509.36 L183.4 508.09 L189.15 510 L199.36 511.28 L204.47 506.17 L214.04 500.43 L214.68 494.68 L221.06 498.51 L226.17 496.6 L233.83 497.87 L240.21 501.06 M170 489.57 L172.55 492.13 L170 495.96" fill="none" stroke="#116B7C" stroke-width="1.25" stroke-linejoin="round" stroke-linecap="round"/>
<path clip-path="url(#c13)" d="M389.96 423.94 L390.85 473.98 M320 437.98 L325.11 442.45 L332.77 441.81 L342.98 438.62 L346.81 429.04 L345.53 423.94 L350 415 M325.11 442.45 L321.28 449.47 L321.28 455.85 L322.55 463.26" fill="none" stroke="#116B7C" stroke-width="1.25" stroke-linejoin="round" stroke-linecap="round"/>
<path d="M128.51 283.32 L130.55 278.72 L133.28 264.6 L140.43 265.11 L140.09 259.49 L151.49 261.36 L157.11 267.32 L162.55 263.91 L174.47 258.47 L189.45 254.89 L188.09 260.85 L184.34 268 L194.89 267.66 L200.85 265.62 L200 256.6 L195.74 255.74 L194.04 251.49 L194.89 245.53 L203.4 239.06 L216.17 237.02 L225.53 237.02 L235.74 232.26 L253.62 231.06 L254.47 236.17 L258.72 235.32 L260.43 245.53 L261.62 255.4 L258.09 257.11 L258.94 263.4 L254.68 269.36 L260.98 280.43 L268.3 273.62 L273.4 265.96 L278.51 253.19 L288.72 254.04 L295.53 248.09 L298.09 241.28 L306.6 238.38 L318.51 239.06 L326.17 245.53 L328.72 250.64 L324.47 251.49 L321.91 247.23 L323.28 254.04 L323.62 271.91 L321.28 272.55 L309.79 278.62 L303.4 286.7 L310.64 285.64 L320.21 285.11 L328.72 284.47 L330.32 281.6 L329.79 276.28 L335.11 276.28 L343.62 280 L350 277.34 L349.79 272.55 L353.19 270.43 L359.57 272.02 L369.15 270.43 L371.28 279.47 L365.96 277.34 L359.57 276.81 L363.3 282.13 L357.45 283.72 L350 282.87 L343.62 283.19 L337.23 283.19 L334.04 286.91 L333.83 289.89 L340 290.85 L346.81 291.7 L350.53 292.45 L351.91 290.53 L360.64 290.32 L366.81 289.04 L365.96 284.79 L374.47 285.32 L376.6 286.91 L376.38 291.7 L380.85 290.64 L389.36 286.91 L389.57 285.53 L391.49 287.45 L410.64 287.45 L415.74 283.36 L426.6 282.34 L425.96 287.45 L427.87 288.09 L431.06 279.79 L436.17 277.23 L445.11 276.6 L448.94 270.85 L446.38 266.38 L447.66 260.64 L446.38 252.98 L445.11 246.6 L447.66 241.23 L452.77 242.77 L457.87 250.43 L460.43 258.72 L466.81 265.74 L474.47 272.13 L474.47 286.17 L478.3 290.64 L475.11 296.38 L471.92 298.94 L470.64 306.6 L468.09 311.7 L457.87 312.98 L457.23 316.81 L462.98 324.47 L462.72 330.85 L464.26 338.51 L465.53 344.89 L463.62 351.28 L460.43 352.55 L455.96 362.13 L456.6 367.23 L454.04 372.98 L449.57 380 L445.11 385.11 L443.83 390.85 L440.64 394.04 L429.79 400.43 L428.51 403.62 L424.68 411.28 L418.3 416.38 L414.47 422.66 L409.36 428.4 L407.45 422.66 L399.15 425.85 L398.89 432.87 L401.7 443.09 L403.62 453.3 L404.89 463.51 L409.36 471.17 L416.38 480.74 L415.75 485.21 L413.83 487.13 L410 485.85 L408.72 483.3 L403.62 482.02 L399.15 478.19 L396.6 475 L390.85 473.98 L387.66 472.45 L381.28 476.53 L377.45 471.17 L371.06 464.15 L362.13 463.51 L351.92 461.98 L347.45 459.68 L335.96 459.68 L322.55 463.26 L311.92 464.15 L304.26 460.96 L306.17 454.57 L299.79 452.02 L300.43 445.64 L297.87 443.09 L295.32 445.64 L294.68 450.74 L287.66 448.83 L286.38 445.64 L283.83 448.83 L279.36 448.19 L268.51 454.57 L266.21 459.68 L266.21 470.66 L258.3 466.7 L253.45 464.79 L254.21 467.09 L258.3 469.64 L265.7 473.98 L268.51 481.38 L269.11 485.43 L268.72 491.17 L262.98 495.64 L256.6 499.21 L253.4 498.45 L240 501.38 L235.53 505.85 L234.89 519.89 L236.17 526.28 L239.74 532.66 L233.62 535.21 L228.51 532.02 L217.02 528.19 L205.53 525 L192.77 521.17 L180 518.62 L164.47 514.04 L152.98 508.94 L136.38 502.55 L126.17 500.64 L112.13 496.17 L95.53 489.79 L80.85 483.4 L77.66 474.47 L71.28 462.34 L67.45 460.06 L58.51 450.74 L60.43 448.19 L52.51 439.26 L55.32 432.23 L63.62 427.77 L66.17 416.28 L70.64 417.55 L81.49 422.02 L82.13 426.49 L80.21 432.23 L78.3 433.26 L76.38 437.98 L83.4 446.28 L88.51 450.11 L98.09 452.02 L102.55 442.45 L112.13 440.53 L112.13 433.51 L108.94 429.04 L108.94 423.3 L100 405.43 L107.66 398.79 L110.21 399.3 L115.32 406.7 L134.47 393.94 L142.13 386.28 L143.83 385.06 L152.13 377.66 L161.06 373.19 L170 375.11 L175.11 364.89 L186.6 351.49 L191.7 350.21 L196.81 351.49 L201.92 347.66 L209.57 345.74 L215.32 348.3 L217.87 343.83 L217.23 336.17 L212.13 333.62 L201.92 333.62 L191.7 337.45 L184.68 343.83 L184.04 341.92 L167.45 341.92 L168.72 329.15 L164.89 318.94 L161.7 312.77 L165.62 306.81 L165.11 301.7 L165.96 293.19 L152.34 286.72 L145.53 284.34 L131.06 286.38 Z M183.83 295.21 L187.66 292.66 L195.32 298.4 L193.4 304.79 L210 304.15 L212.55 307.34 L205.53 313.09 L195.32 315 L188.3 312.45 L188.94 306.7 L185.11 299.04 Z M227.23 304.79 L232.34 304.4 L237.45 315 L235.15 320.11 L234.89 325.85 L227.23 326.49 L226.21 330.32 L220.85 327.13 L224.04 320.74 L225.32 310.53 Z M267.79 288.77 L274.26 287.57 L289.57 288.43 L297.23 284.17 L304.72 287.06 L302.68 292.68 L289.57 296.43 L281.06 295.57 L273.4 294.55 Z M314.47 321.92 L318.3 325.11 L322.13 323.45 L325.32 327.66 L322.77 332.77 L316.38 330.21 L314.21 326.38 Z M326.6 335.96 L332.34 337.87 L338.09 341.7 L339.36 347.45 L336.17 351.28 L332.34 349.36 L322.13 351.53 L324.68 346.17 Z M375.11 294.21 L380.21 298.68 L384.94 306.34 L387.49 314.26 L383.15 320.89 L378.04 316.04 L372.81 309.4 L370.77 303.4 L371.66 298.68 Z M439.36 314.89 L441.28 312.98 L447.02 314.89 L450.85 319.11 L447.66 322.17 L440.64 324.21 L438.98 320 Z M219.79 427.02 L226.81 425.11 L233.19 442.98 L232.55 448.72 L229.36 448.34 L222.98 451.92 L222.34 460.21 L216.6 467.87 L215.32 471.7 L204.47 477.45 L203.83 485.11 L198.09 484.85 L196.81 481.28 L185.96 482.55 L180.85 476.81 L168.72 476.17 L159.15 472.34 L162.98 465.32 L172.55 464.68 L177.02 462.13 L175.11 458.3 L178.3 453.19 L185.32 451.92 L193.62 447.45 L201.28 443.62 L207.66 444.26 L214.04 440.43 L221.7 436.6 L222.34 432.77 L219.79 429.57 Z" fill="none" stroke="#116B7C" stroke-width="1.25" stroke-linejoin="round"/>
<polyline points="174.47,258.47 174.81,255.74 183.83,247.23 193.53,245.19 194.89,245.53" fill="none" stroke="#5e5957" stroke-width="0.8"/>
<polyline points="261.49,255.23 270.85,251.49 278.51,253.19" fill="none" stroke="#5e5957" stroke-width="0.8"/>
<polyline points="323.4,272.02 330.32,276.28" fill="none" stroke="#5e5957" stroke-width="0.8"/>
<polyline points="184.3,343.45 186.21,351.49" fill="none" stroke="#5e5957" stroke-width="0.8"/>
<polyline points="70.64,417.3 82.13,406.7 88.51,405.17 98.72,406.06 100,405.43" fill="none" stroke="#5e5957" stroke-width="0.8"/>
</svg>
<div class="t" style="top:556.68px;left:36.10px;transform-origin:0 50%;transform:scaleX(0.947);font-size:9px;font-weight:400;color:#000;-webkit-text-stroke:0.11px #000;text-shadow:0.10px 0 0 #000,-0.10px 0 0 #000;">Información sujeta a cambios por actualización de la plataforma.</div>
<svg width="940" height="597" viewBox="0 0 940 597" aria-label="Casos por institución">
<path d="M615.0,275.7 L615.00,218.90 A56.8,56.8 0 1 1 560.37,291.24 Z" fill="#1A8CFF" stroke="#1A8CFF" stroke-width="0.4"/>
<path d="M615.0,275.7 L560.37,291.24 A56.8,56.8 0 0 1 574.36,236.02 Z" fill="#12239E" stroke="#12239E" stroke-width="0.4"/>
<path d="M615.0,275.7 L574.36,236.02 A56.8,56.8 0 0 1 588.01,225.72 Z" fill="#0F62BF" stroke="#0F62BF" stroke-width="0.4"/>
<path d="M615.0,275.7 L588.01,225.72 A56.8,56.8 0 0 1 599.60,221.03 Z" fill="#3F9FFF" stroke="#3F9FFF" stroke-width="0.4"/>
<path d="M615.0,275.7 L599.60,221.03 A56.8,56.8 0 0 1 607.99,219.33 Z" fill="#74B6F7" stroke="#74B6F7" stroke-width="0.4"/>
<path d="M615.0,275.7 L607.99,219.33 A56.8,56.8 0 0 1 612.47,218.96 Z" fill="#D8705C" stroke="#D8705C" stroke-width="0.4"/>
<path d="M615.0,275.7 L612.47,218.96 A56.8,56.8 0 0 1 615.00,218.90 Z" fill="#3A1466" stroke="#3A1466" stroke-width="0.4"/>
<polyline points="672.6,315.6 669.0,314.2 664.3,312.6" fill="none" stroke="#b5b5b5" stroke-width="0.6"/>
<polyline points="546.5,261.3 552.5,261.3 558.3,263.5" fill="none" stroke="#b5b5b5" stroke-width="0.6"/>
<polyline points="570.5,225.6 575.5,225.6 579.5,229.0" fill="none" stroke="#b5b5b5" stroke-width="0.6"/>
<polyline points="588.5,214.6 593.5,214.6 596.0,219.5" fill="none" stroke="#b5b5b5" stroke-width="0.6"/>
<text x="674.3" y="318.7" font-size="7" font-weight="700" fill="#111" text-anchor="start" textLength="26.5" lengthAdjust="spacingAndGlyphs" stroke="#111" stroke-width="0.35">70.59%</text>
<text x="518.7" y="263.8" font-size="7" font-weight="700" fill="#111" text-anchor="start" textLength="26.3" lengthAdjust="spacingAndGlyphs" stroke="#111" stroke-width="0.35">16.72%</text>
<text x="546.8" y="228.2" font-size="7" font-weight="700" fill="#111" text-anchor="start" textLength="21.8" lengthAdjust="spacingAndGlyphs" stroke="#111" stroke-width="0.35">4.81%</text>
<text x="564.8" y="218.9" font-size="7" font-weight="700" fill="#111" text-anchor="start" textLength="21.8" lengthAdjust="spacingAndGlyphs" stroke="#111" stroke-width="0.35">3.51%</text>
<circle cx="517.6" cy="366.2" r="2.3" fill="#3A8EE6"/>
<text x="522.2" y="369.2" font-size="8.3" font-weight="700" fill="#0d0d0d" text-anchor="start" textLength="18.1" lengthAdjust="spacingAndGlyphs" stroke="#0d0d0d" stroke-width="0.5">SSA</text>
<circle cx="546.8" cy="366.2" r="2.3" fill="#15259A"/>
<text x="551.5" y="369.2" font-size="8.3" font-weight="700" fill="#0d0d0d" text-anchor="start" textLength="22.9" lengthAdjust="spacingAndGlyphs" stroke="#0d0d0d" stroke-width="0.5">IMSS</text>
<circle cx="581.2" cy="366.2" r="2.3" fill="#1A69B8"/>
<text x="585.4" y="369.2" font-size="8.3" font-weight="700" fill="#0d0d0d" text-anchor="start" textLength="33.5" lengthAdjust="spacingAndGlyphs" stroke="#0d0d0d" stroke-width="0.5">ISSSTE</text>
<circle cx="625.2" cy="366.2" r="2.3" fill="#55A5EC"/>
<text x="629.9" y="369.2" font-size="8.3" font-weight="700" fill="#0d0d0d" text-anchor="start" textLength="28.1" lengthAdjust="spacingAndGlyphs" stroke="#0d0d0d" stroke-width="0.5">SEM...</text>
<circle cx="664.5" cy="366.2" r="2.3" fill="#8CC0F0"/>
<text x="669.0" y="369.2" font-size="8.3" font-weight="700" fill="#0d0d0d" text-anchor="start" textLength="30.6" lengthAdjust="spacingAndGlyphs" stroke="#0d0d0d" stroke-width="0.5">PRIV...</text>
<path d="M712.6,364.2 L714.6,366.1 L712.6,368 Z" fill="#222"/>
</svg>
<svg width="940" height="597" viewBox="0 0 940 597" aria-label="Casos por grupo edad">
<circle cx="762.1" cy="202.2" r="2.1" fill="#1A8CFF"/>
<text x="766.8" y="205.2" font-size="8.2" fill="#222" textLength="44" lengthAdjust="spacingAndGlyphs">FEMENINO</text>
<circle cx="817.8" cy="202.2" r="2.1" fill="#12239E"/>
<text x="821.8" y="205.2" font-size="8.2" fill="#222" textLength="50.3" lengthAdjust="spacingAndGlyphs">MASCULINO</text>
<rect x="806.60" y="220.20" width="1.30" height="10.8" fill="#1A8CFF"/>
<rect x="807.90" y="220.20" width="2.88" height="10.8" fill="#12239E"/>
<text x="801.9" y="228.05" font-size="7.5" font-weight="700" fill="#111" stroke="#111" stroke-width="0.35" text-anchor="end" textLength="55.5" lengthAdjust="spacingAndGlyphs">1.- 0-09 Años</text>
<rect x="806.60" y="234.61" width="5.39" height="10.8" fill="#1A8CFF"/>
<rect x="811.99" y="234.61" width="4.83" height="10.8" fill="#12239E"/>
<text x="801.9" y="242.46" font-size="7.5" font-weight="700" fill="#111" stroke="#111" stroke-width="0.35" text-anchor="end" textLength="60.8" lengthAdjust="spacingAndGlyphs">2.- 10-19 Años</text>
<rect x="806.60" y="249.02" width="24.71" height="10.8" fill="#1A8CFF"/>
<rect x="831.31" y="249.02" width="29.45" height="10.8" fill="#12239E"/>
<text x="801.9" y="256.87" font-size="7.5" font-weight="700" fill="#111" stroke="#111" stroke-width="0.35" text-anchor="end" textLength="60.8" lengthAdjust="spacingAndGlyphs">3.- 20-29 Años</text>
<text x="818.96" y="257.72" font-size="8.3" fill="#fff" text-anchor="middle">266</text>
<text x="846.04" y="257.72" font-size="8.3" fill="#fff" text-anchor="middle">317</text>
<rect x="806.60" y="263.43" width="34.09" height="10.8" fill="#1A8CFF"/>
<rect x="840.69" y="263.43" width="47.10" height="10.8" fill="#12239E"/>
<text x="801.9" y="271.28" font-size="7.5" font-weight="700" fill="#111" stroke="#111" stroke-width="0.35" text-anchor="end" textLength="60.8" lengthAdjust="spacingAndGlyphs">4.- 30-39 Años</text>
<text x="823.65" y="272.13" font-size="8.3" fill="#fff" text-anchor="middle">367</text>
<text x="864.24" y="272.13" font-size="8.3" fill="#fff" text-anchor="middle">507</text>
<rect x="806.60" y="277.84" width="31.03" height="10.8" fill="#1A8CFF"/>
<rect x="837.63" y="277.84" width="43.94" height="10.8" fill="#12239E"/>
<text x="801.9" y="285.69" font-size="7.5" font-weight="700" fill="#111" stroke="#111" stroke-width="0.35" text-anchor="end" textLength="60.8" lengthAdjust="spacingAndGlyphs">5.- 40-49 Años</text>
<text x="822.11" y="286.54" font-size="8.3" fill="#fff" text-anchor="middle">334</text>
<text x="859.60" y="286.54" font-size="8.3" fill="#fff" text-anchor="middle">473</text>
<rect x="806.60" y="292.25" width="25.83" height="10.8" fill="#1A8CFF"/>
<rect x="832.43" y="292.25" width="37.07" height="10.8" fill="#12239E"/>
<text x="801.9" y="300.10" font-size="7.5" font-weight="700" fill="#111" stroke="#111" stroke-width="0.35" text-anchor="end" textLength="60.8" lengthAdjust="spacingAndGlyphs">6.- 50-59 Años</text>
<text x="819.51" y="300.95" font-size="8.3" fill="#fff" text-anchor="middle">278</text>
<text x="850.96" y="300.95" font-size="8.3" fill="#fff" text-anchor="middle">399</text>
<rect x="806.60" y="306.66" width="16.16" height="10.8" fill="#1A8CFF"/>
<rect x="822.76" y="306.66" width="19.69" height="10.8" fill="#12239E"/>
<text x="801.9" y="314.51" font-size="7.5" font-weight="700" fill="#111" stroke="#111" stroke-width="0.35" text-anchor="end" textLength="60.8" lengthAdjust="spacingAndGlyphs">7.- 60-69 Años</text>
<text x="814.68" y="315.36" font-size="8.3" fill="#fff" text-anchor="middle">174</text>
<text x="832.61" y="315.36" font-size="8.3" fill="#fff" text-anchor="middle">212</text>
<rect x="806.60" y="321.07" width="7.71" height="10.8" fill="#1A8CFF"/>
<rect x="814.31" y="321.07" width="10.50" height="10.8" fill="#12239E"/>
<text x="801.9" y="328.92" font-size="7.5" font-weight="700" fill="#111" stroke="#111" stroke-width="0.35" text-anchor="end" textLength="60.8" lengthAdjust="spacingAndGlyphs">8.- 70-89 Años</text>
<rect x="806.60" y="335.48" width="1.39" height="10.8" fill="#1A8CFF"/>
<rect x="807.99" y="335.48" width="4.64" height="10.8" fill="#12239E"/>
<text x="801.9" y="343.33" font-size="7.5" font-weight="700" fill="#111" stroke="#111" stroke-width="0.35" text-anchor="end" textLength="55.5" lengthAdjust="spacingAndGlyphs">9.- 80 + Años</text>
<text transform="translate(732.6,283) rotate(-90)" font-size="7.3" font-weight="700" fill="#111" stroke="#111" stroke-width="0.3" text-anchor="middle" textLength="45" lengthAdjust="spacingAndGlyphs">Grupo edad</text>
<text x="806.60" y="360.8" font-size="6.6" fill="#777" text-anchor="middle">0</text>
<text x="853.05" y="360.8" font-size="6.6" fill="#777" text-anchor="middle">500</text>
<text x="899.50" y="360.8" font-size="6.6" fill="#777" text-anchor="middle">1,000</text>
<text x="853" y="371.4" font-size="7.5" font-weight="700" fill="#111" stroke="#111" stroke-width="0.35" text-anchor="middle" textLength="50" lengthAdjust="spacingAndGlyphs">Confirmados</text>
</svg>
<div class="b" style="left:515.20px;top:393.30px;width:167.30px;height:178.10px;background:#12239E;"></div>
<div class="t" style="top:397.25px;left:517.50px;transform-origin:0 50%;transform:scaleX(0.83);font-size:8.8px;font-weight:400;color:rgba(255,255,255,.93);letter-spacing:0.38px;">JS-LÁZARO CÁRDENAS</div>
<div class="t" style="top:563.66px;left:517.40px;transform-origin:0 50%;transform:scaleX(1.06);font-size:8.2px;font-weight:700;color:#fff;-webkit-text-stroke:0.18px #fff;text-shadow:0.16px 0 0 #fff,-0.16px 0 0 #fff;">1,613</div>
<div class="b" style="left:683.40px;top:393.30px;width:116.00px;height:90.60px;background:#0F62BF;"></div>
<div class="t" style="top:397.25px;left:685.70px;transform-origin:0 50%;transform:scaleX(0.83);font-size:8.8px;font-weight:400;color:rgba(255,255,255,.93);letter-spacing:0.38px;">JS-MORELIA</div>
<div class="t" style="top:476.16px;left:685.60px;transform-origin:0 50%;transform:scaleX(1.06);font-size:8.2px;font-weight:700;color:#fff;-webkit-text-stroke:0.18px #fff;text-shadow:0.16px 0 0 #fff,-0.16px 0 0 #fff;">571</div>
<div class="b" style="left:683.40px;top:484.80px;width:116.00px;height:86.60px;background:#3F9FFF;"></div>
<div class="t" style="top:488.75px;left:685.70px;transform-origin:0 50%;transform:scaleX(0.83);font-size:8.8px;font-weight:400;color:rgba(255,255,255,.93);letter-spacing:0.38px;">JS-APATZINGÁN</div>
<div class="t" style="top:563.66px;left:685.60px;transform-origin:0 50%;transform:scaleX(1.06);font-size:8.2px;font-weight:700;color:#fff;-webkit-text-stroke:0.18px #fff;text-shadow:0.16px 0 0 #fff,-0.16px 0 0 #fff;">549</div>
<div class="b" style="left:800.30px;top:393.30px;width:58.50px;height:114.40px;background:#73B9FF;"></div>
<div class="t" style="top:397.25px;left:802.60px;transform-origin:0 50%;transform:scaleX(0.83);font-size:8.8px;font-weight:400;color:rgba(255,255,255,.93);letter-spacing:0.38px;">JS-ZITÁCUA...</div>
<div class="t" style="top:499.96px;left:802.50px;transform-origin:0 50%;transform:scaleX(1.06);font-size:8.2px;font-weight:700;color:#fff;-webkit-text-stroke:0.18px #fff;text-shadow:0.16px 0 0 #fff,-0.16px 0 0 #fff;">363</div>
<div class="b" style="left:859.70px;top:393.30px;width:47.60px;height:114.40px;background:#128CFE;"></div>
<div class="t" style="top:397.25px;left:862.00px;transform-origin:0 50%;transform:scaleX(0.83);font-size:8.8px;font-weight:400;color:rgba(255,255,255,.93);letter-spacing:0.38px;">JS-URUA...</div>
<div class="t" style="top:499.96px;left:861.90px;transform-origin:0 50%;transform:scaleX(1.06);font-size:8.2px;font-weight:700;color:#fff;-webkit-text-stroke:0.18px #fff;text-shadow:0.16px 0 0 #fff,-0.16px 0 0 #fff;">297</div>
<div class="b" style="left:800.30px;top:508.60px;width:80.10px;height:38.80px;background:#12239E;"></div>
<div class="t" style="top:512.55px;left:802.60px;transform-origin:0 50%;transform:scaleX(0.83);font-size:8.8px;font-weight:400;color:rgba(255,255,255,.93);letter-spacing:0.38px;">JS-ZAMORA</div>
<div class="t" style="top:539.66px;left:802.50px;transform-origin:0 50%;transform:scaleX(1.06);font-size:8.2px;font-weight:700;color:#fff;-webkit-text-stroke:0.18px #fff;text-shadow:0.16px 0 0 #fff,-0.16px 0 0 #fff;">172</div>
<div class="b" style="left:800.30px;top:548.30px;width:80.10px;height:23.10px;background:#A0A6DB;"></div>
<div class="t" style="top:552.25px;left:802.60px;transform-origin:0 50%;transform:scaleX(0.83);font-size:8.8px;font-weight:400;color:rgba(255,255,255,.93);letter-spacing:0.38px;">JS-LA PIEDAD</div>
<div class="b" style="left:881.30px;top:508.60px;width:26.00px;height:62.80px;background:#A3CCFB;"></div>
<div class="t" style="top:512.55px;left:883.60px;transform-origin:0 50%;transform:scaleX(0.83);font-size:8.8px;font-weight:400;color:rgba(255,255,255,.93);letter-spacing:0.38px;">JS-...</div>
<div class="t" style="top:563.66px;left:883.50px;transform-origin:0 50%;transform:scaleX(1.06);font-size:8.2px;font-weight:700;color:#fff;-webkit-text-stroke:0.18px #fff;text-shadow:0.16px 0 0 #fff,-0.16px 0 0 #fff;">91</div>
<div class="t" style="top:593.68px;left:426.60px;transform:translateX(-50%) scaleX(1.0);font-size:9px;font-weight:400;color:#111;letter-spacing:0.62px;-webkit-text-stroke:0.09px #111;text-shadow:0.08px 0 0 #111,-0.08px 0 0 #111;">AMBULATORIO</div>
<div class="t" style="top:593.68px;left:510.00px;transform:translateX(-50%) scaleX(1.0);font-size:9px;font-weight:400;color:#111;letter-spacing:0.62px;-webkit-text-stroke:0.09px #111;text-shadow:0.08px 0 0 #111,-0.08px 0 0 #111;">HOSPITALIZADO</div>
</body>
</html>
